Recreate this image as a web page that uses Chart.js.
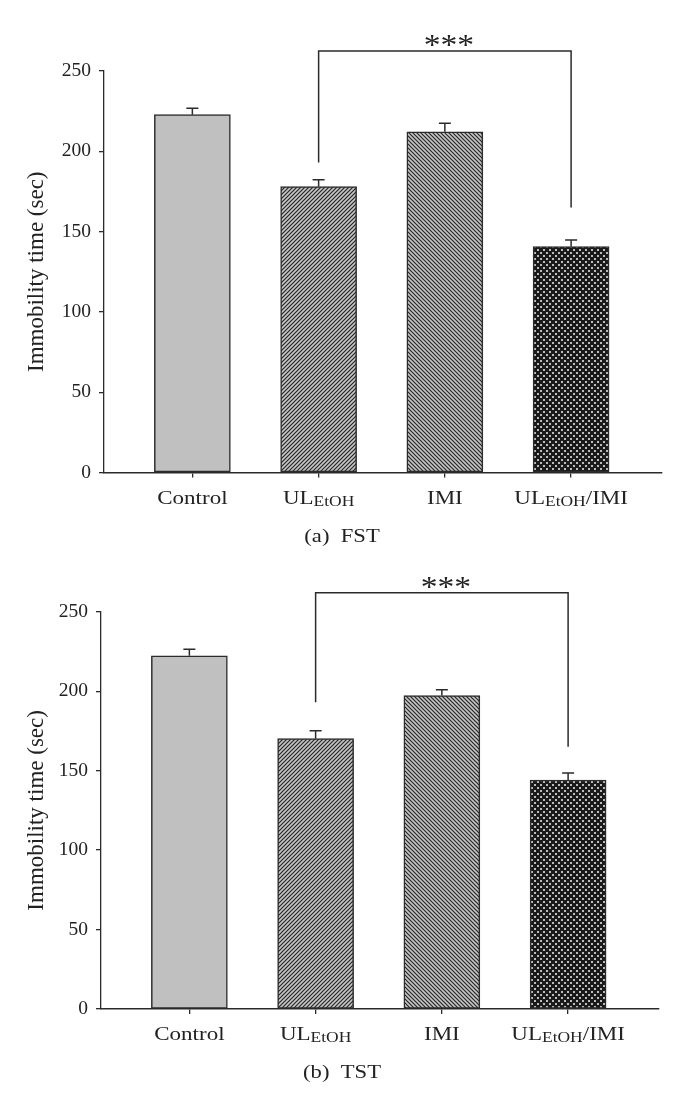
<!DOCTYPE html>
<html>
<head>
<meta charset="utf-8">
<script src="https://cdn.jsdelivr.net/npm/chart.js@4.4.0/dist/chart.umd.min.js"></script>
<style>
  body { margin: 0; background: #fff; }
  .panel { position: relative; width: 685px; }
  canvas { display: block; }
</style>
</head>
<body>
<div class="panel" style="height:550px"><canvas id="fstChart"></canvas></div>
<div class="panel" style="height:551px"><canvas id="tstChart"></canvas></div>
<script>
// values (sec)
const categories = ['Control', 'UL_{EtOH}', 'IMI', 'UL_{EtOH}/IMI'];
const fstMeans = [222.8, 178.0, 212.2, 140.6];
const fstSem = [4.0, 4.3, 5.2, 4.2];
const tstMeans = [222.3, 170.1, 197.2, 144.1];
const tstSem = [4.1, 5.0, 3.7, 4.4];
const yTicks = [0, 50, 100, 150, 200, 250];
const bracketPair = [1, 3];
const fstBracket = [262.5, 193, 165]; // top, left leg end, right leg end
const tstBracket = [262, 193, 165];
const significance = '***';
const yTitle = 'Immobility time (sec)';
const captions = ['(a)  FST', '(b)  TST'];

const FONT = '"Liberation Serif", "Times New Roman", serif';
const INK = '#2b2b2b';

function hatch(dir, size, bg, fg, lw) {
  const c = document.createElement('canvas');
  c.width = c.height = size;
  const g = c.getContext('2d');
  g.fillStyle = bg;
  g.fillRect(0, 0, size, size);
  g.strokeStyle = fg;
  g.lineWidth = lw;
  g.beginPath();
  if (dir > 0) {
    g.moveTo(-1, size + 1); g.lineTo(size + 1, -1);
    g.moveTo(-1, 1); g.lineTo(1, -1);
    g.moveTo(size - 1, size + 1); g.lineTo(size + 1, size - 1);
  } else {
    g.moveTo(-1, -1); g.lineTo(size + 1, size + 1);
    g.moveTo(size - 1, -1); g.lineTo(size + 1, 1);
    g.moveTo(-1, size - 1); g.lineTo(1, size + 1);
  }
  g.stroke();
  return g.createPattern(c, 'repeat');
}

function checker(size, bg, fg) {
  const c = document.createElement('canvas');
  c.width = c.height = size;
  const g = c.getContext('2d');
  g.fillStyle = bg;
  g.fillRect(0, 0, size, size);
  g.fillStyle = fg;
  g.fillRect(0, 0, 2, 2);
  g.fillRect(size / 2, size / 2, 2, 2);
  return g.createPattern(c, 'repeat');
}

const fills = [
  '#c0c0c0',
  hatch(1, 4, '#c6c6c6', '#262626', 1.2),
  hatch(-1, 4, '#c6c6c6', '#262626', 1.2),
  checker(6, '#1a1a1a', '#bcbcbc')
];

// draws text with the slight horizontal stretch of the original figure
function drawLabel(ctx, text, cx, y, size, sx) {
  const parts = text.split(/_\{|\}/);
  const sub = size * 0.76;
  let w = 0;
  parts.forEach((p, i) => {
    ctx.font = (i % 2 ? sub : size) + 'px ' + FONT;
    w += ctx.measureText(p).width;
  });
  ctx.save();
  ctx.translate(cx, y);
  ctx.scale(sx, 1);
  let x = -w / 2;
  parts.forEach((p, i) => {
    ctx.font = (i % 2 ? sub : size) + 'px ' + FONT;
    ctx.fillText(p, x, i % 2 ? 2 : 0);
    x += ctx.measureText(p).width;
  });
  ctx.restore();
}

const annotate = {
  id: 'annotate',
  afterDatasetsDraw(chart, args, opts) {
    const ctx = chart.ctx;
    const xs = chart.scales.x, ys = chart.scales.y;
    const base = chart.chartArea.bottom;
    ctx.save();
    ctx.strokeStyle = INK;
    ctx.lineWidth = 1.5;
    // error bars (upper only)
    opts.means.forEach((m, i) => {
      const px = xs.getPixelForValue(i);
      const y0 = ys.getPixelForValue(m);
      const y1 = ys.getPixelForValue(m + opts.sem[i]);
      ctx.beginPath();
      ctx.moveTo(px, y0); ctx.lineTo(px, y1);
      ctx.moveTo(px - 6, y1); ctx.lineTo(px + 6, y1);
      ctx.stroke();
    });
    // significance bracket
    const b = opts.bracket;
    const xa = xs.getPixelForValue(bracketPair[0]);
    const xb = xs.getPixelForValue(bracketPair[1]);
    const yt = ys.getPixelForValue(b[0]);
    ctx.beginPath();
    ctx.moveTo(xa, ys.getPixelForValue(b[1]));
    ctx.lineTo(xa, yt);
    ctx.lineTo(xb, yt);
    ctx.lineTo(xb, ys.getPixelForValue(b[2]));
    ctx.stroke();

    ctx.fillStyle = '#222';
    ctx.textBaseline = 'alphabetic';
    ctx.textAlign = 'left';
    drawLabel(ctx, significance, (xa + xb) / 2 + 4, yt + 3, 30, 1.12);

    categories.forEach((c, i) => {
      drawLabel(ctx, c, xs.getPixelForValue(i), base + 31, 19.5, 1.18);
    });
    drawLabel(ctx, opts.caption, 342, base + 69, 19.5, 1.16);
    ctx.restore();
  }
};

function buildChart(id, means, sem, bracket, caption, lay) {
  return new Chart(document.getElementById(id), {
    type: 'bar',
    data: {
      datasets: [{
        data: means.map((v, i) => ({x: i, y: v})),
        backgroundColor: fills,
        borderColor: INK,
        borderWidth: 1.5,
        borderSkipped: false,
        barThickness: 76
      }]
    },
    options: {
      responsive: true,
      maintainAspectRatio: false,
      animation: false,
      layout: {padding: {top: lay.top, right: 685 - lay.right, bottom: 0, left: 0}},
      plugins: {
        legend: {display: false},
        tooltip: {enabled: false},
        annotate: {means: means, sem: sem, bracket: bracket, caption: caption}
      },
      scales: {
        x: {
          type: 'linear',
          min: -0.7,
          max: 3.72,
          offset: false,
          afterBuildTicks: s => { s.ticks = categories.map((c, i) => ({value: i})); },
          afterFit: s => { s.height = lay.H - lay.axisY; },
          grid: {offset: false, drawOnChartArea: false, tickLength: 5, color: INK, lineWidth: 1.3},
          border: {color: INK, width: 1.5},
          ticks: {display: false}
        },
        y: {
          min: 0,
          max: 250,
          afterBuildTicks: s => { s.ticks = yTicks.map(v => ({value: v})); },
          afterFit: s => { s.width = lay.left; },
          grid: {drawOnChartArea: false, tickLength: 5, color: INK, lineWidth: 1.3},
          border: {color: INK, width: 1.3},
          ticks: {font: {family: FONT, size: 19.5}, color: '#222', padding: 8},
          title: {
            display: true,
            text: yTitle,
            color: '#222',
            font: {family: FONT, size: 23},
            padding: {top: 23, bottom: 0}
          }
        }
      }
    },
    plugins: [annotate]
  });
}

buildChart('fstChart', fstMeans, fstSem, fstBracket, captions[0],
  {H: 550, top: 71, left: 104, right: 662, axisY: 472.5});
buildChart('tstChart', tstMeans, tstSem, tstBracket, captions[1],
  {H: 551, top: 61.7, left: 101, right: 659, axisY: 459});
</script>
</body>
</html>
